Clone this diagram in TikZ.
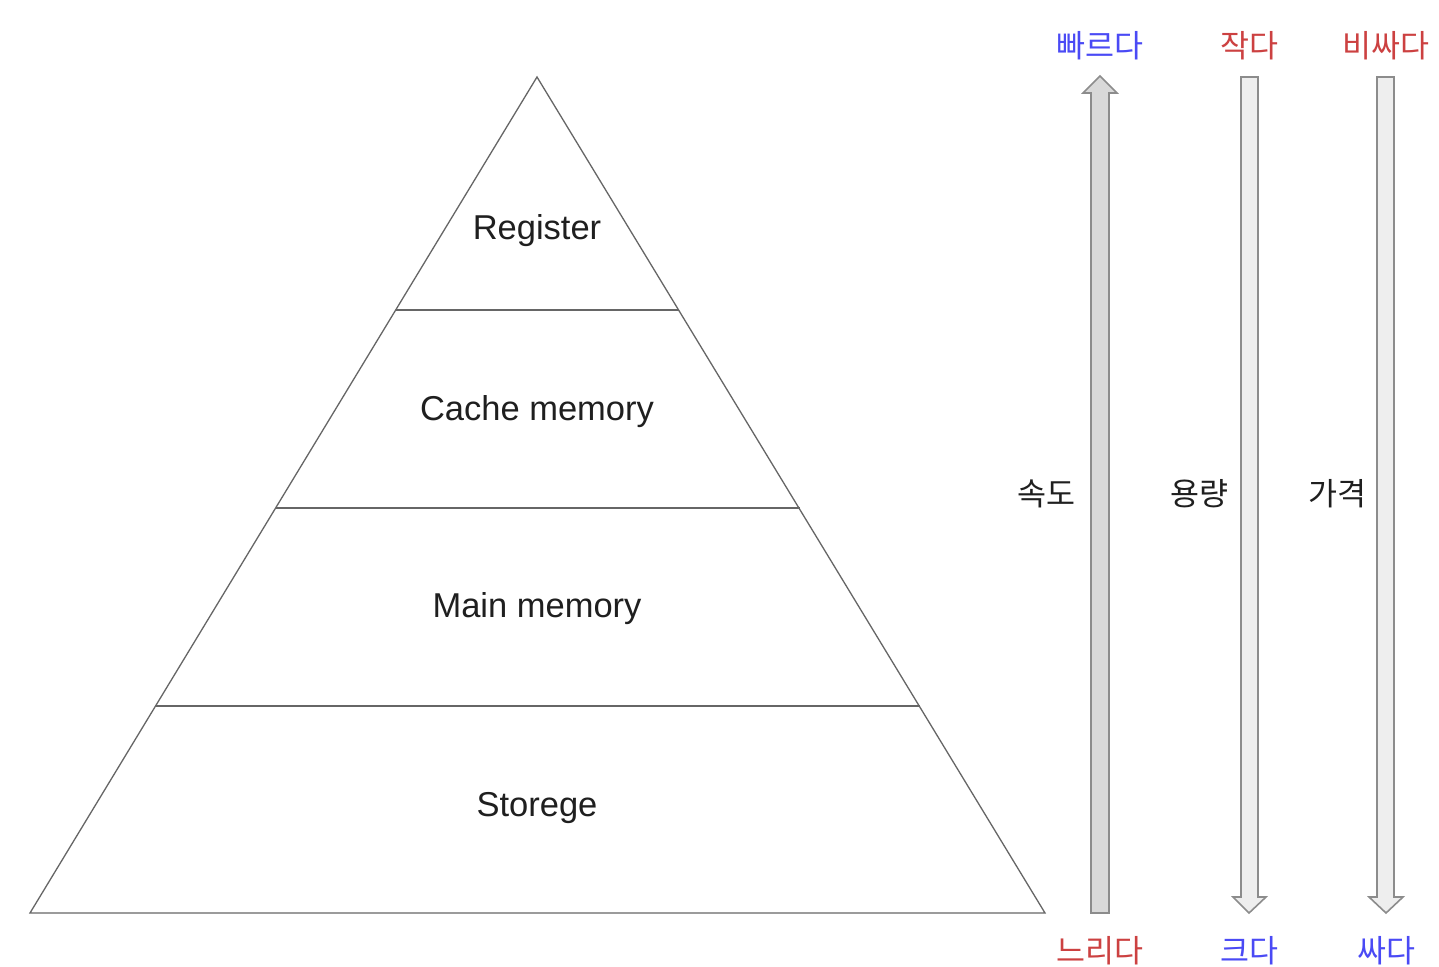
\documentclass[tikz,border=0pt]{standalone}
\usepackage{fontspec}
\setmainfont{Liberation Sans}
\newfontfamily\kr{Noto Sans CJK KR}
\definecolor{krblue}{HTML}{4A4AF5}
\definecolor{krred}{HTML}{CC4141}
\definecolor{edge}{HTML}{666666}
\definecolor{arredge}{HTML}{8C8C8C}
\definecolor{fillA}{HTML}{D9D9D9}
\definecolor{fillB}{HTML}{EEEEEE}
\begin{document}
\begin{tikzpicture}[x=1pt,y=-1pt,
  lvl/.style={font=\fontsize{34.5}{40}\selectfont, text=black!88, inner sep=0pt},
  krlab/.style={font=\kr\fontsize{31.5}{36}\selectfont, inner sep=0pt},
  pyr/.style={draw=edge, line width=1.3pt},
  arrowshape/.style={draw=arredge, line width=1.6pt, line join=miter}]
\useasboundingbox (0,0) rectangle (1439,966);
\fill[white] (0,0) rectangle (1439,966);
% pyramid
\coordinate (apex) at (537,77);
\coordinate (bl) at (30,913);
\coordinate (br) at (1045,913);
\draw[pyr] (apex) -- (bl) -- (br) -- cycle;
\draw[pyr] (396,310) -- (679,310);
\draw[pyr] (276,508) -- (800,508);
\draw[pyr] (155,706) -- (920,706);
\node[lvl] (reg) at (537,231) {Register};
\node[lvl] (cache) at (537,412) {Cache memory};
\node[lvl] (main) at (537,609) {Main memory};
\node[lvl] (stor) at (537,808) {Storege};
% speed arrow (up)
\draw[arrowshape, fill=fillA] (1091,913) -- (1091,93) -- (1083,93) -- (1100,76) -- (1117,93) -- (1109,93) -- (1109,913) -- cycle;
% capacity arrow (down)
\draw[arrowshape, fill=fillB] (1241,77) -- (1241,897) -- (1233,897) -- (1249,913) -- (1266,897) -- (1258,897) -- (1258,77) -- cycle;
% price arrow (down)
\draw[arrowshape, fill=fillB] (1377,77) -- (1377,897) -- (1369,897) -- (1386,913) -- (1403,897) -- (1394,897) -- (1394,77) -- cycle;
% labels
\node[krlab, text=krblue] (fast) at (1100,46) {빠르다};
\node[krlab, text=krred] (small) at (1249,46) {작다};
\node[krlab, text=krred] (exp) at (1386,46) {비싸다};
\node[krlab, text=krred] (slow) at (1100,951) {느리다};
\node[krlab, text=krblue] (big) at (1249,951) {크다};
\node[krlab, text=krblue] (cheap) at (1386,951) {싸다};
\node[krlab, text=black!88] (speed) at (1046,494) {속도};
\node[krlab, text=black!88] (cap) at (1199,494) {용량};
\node[krlab, text=black!88] (price) at (1337,494) {가격};
\end{tikzpicture}
\end{document}
